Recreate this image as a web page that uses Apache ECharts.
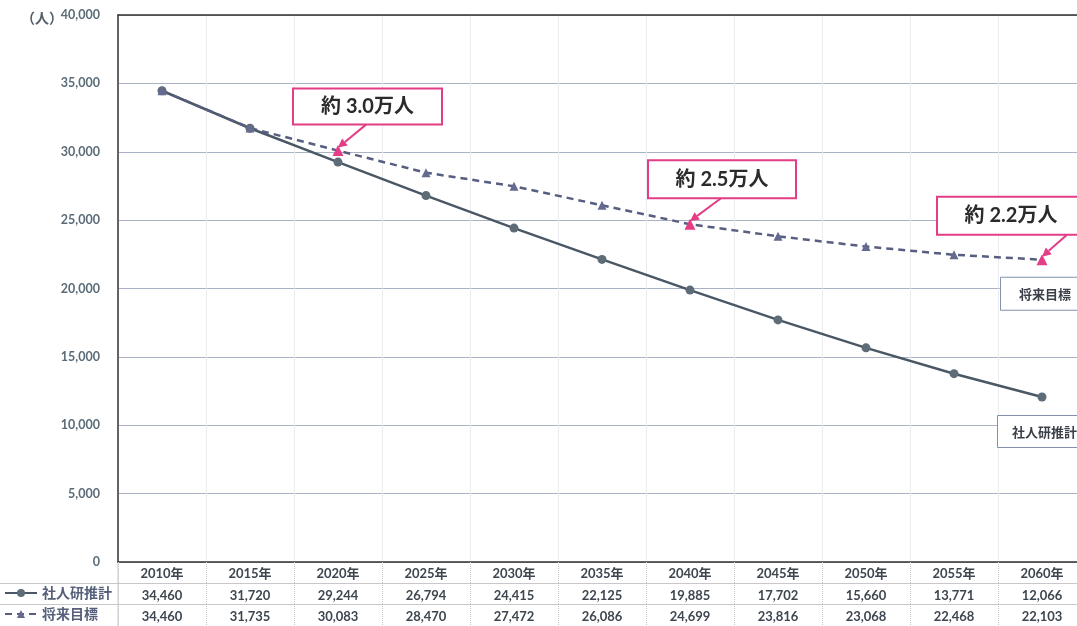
<!DOCTYPE html>
<html><head><meta charset="utf-8">
<script src="https://cdn.jsdelivr.net/npm/echarts@6/dist/echarts.min.js"></script>
<style>html,body{margin:0;padding:0;background:#fff}#c{width:1077px;height:626px}</style>
</head><body><div id="c"></div>
<script>
const years = ['2010','2015','2020','2025','2030','2035','2040','2045','2050','2055','2060'];
const shajinken = [34460,31720,29244,26794,24415,22125,19885,17702,15660,13771,12066];
const mokuhyo = [34460,31735,30083,28470,27472,26086,24699,23816,23068,22468,22103];
const seriesNames = ['社人研推計','将来目標'];
const yTicks = [0,5000,10000,15000,20000,25000,30000,35000,40000];
const calloutIdx = [2,6,10];
const calloutText = ['約 3.0万人','約 2.5万人','約 2.2万人'];

// layout (pixel offsets relative to the data point)
const calloutLayout = [
  {dx:-45, dy:-62, w:149, h:36, ax:28, ay:-26},
  {dx:-42, dy:-64, w:148, h:38, ax:31, ay:-26},
  {dx:-105, dy:-63, w:148, h:38, ax:25, ay:-25}
];
const endLayout = [
  {dx:-45, dy:18, w:95, h:32}, // 社人研推計
  {dx:-42, dy:17, w:90, h:33}  // 将来目標
];

const FONT = 'Lato, "Noto Sans CJK JP", sans-serif';
const fmt = v => Number(v).toLocaleString('en-US');
const PINK = '#e23d85';

const chart = echarts.init(document.getElementById('c'));

const m2 = mokuhyo.map((v,i) => calloutIdx.includes(i)
  ? {value:v, itemStyle:{color:PINK}, symbolSize:11} : v);

const calloutData = calloutIdx.map((idx,k) => [idx, mokuhyo[idx], k]);
const endData = [[years.length-1, shajinken[shajinken.length-1], 0],[years.length-1, mokuhyo[mokuhyo.length-1], 1]];

function tableAxis(offset, vals, color, lineColor){
  return {
    type:'category', data:years, position:'bottom', offset:offset, gridIndex:0,
    axisLine:{show:true, lineStyle:{color:lineColor, width:1}},
    axisTick:{show:true, length:21, interval:0, lineStyle:{color:'#c4c4c4', type:'dotted'}},
    axisLabel:{interval:0, margin:6, color:color, fontWeight:'bold', fontSize:13, fontFamily:FONT,
      formatter:(v,i)=>fmt(vals[i])},
    splitLine:{show:false}
  };
}

const option = {
  backgroundColor:'#fff',
  animation:false,
  title:{text:'（人）', left:16, top:6, textStyle:{fontSize:14, fontWeight:'bold', color:'#55606a', fontFamily:FONT}},
  grid:{left:118, top:15, width:968, bottom:64, containLabel:false, outerBoundsMode:'none'},
  legend:[
    {data:[seriesNames[0]], left:4, top:586, itemWidth:32, itemHeight:10, itemGap:0, padding:0,
      textStyle:{fontSize:14, fontWeight:'bold', color:'#56607a', fontFamily:'"Noto Sans CJK JP", sans-serif'}},
    {data:[seriesNames[1]], left:4, top:607, itemWidth:32, itemHeight:10, itemGap:0, padding:0,
      textStyle:{fontSize:14, fontWeight:'bold', color:'#56607a', fontFamily:'"Noto Sans CJK JP", sans-serif'}}
  ],
  xAxis:[
    {
      type:'category', data:years, position:'bottom',
      axisLine:{show:true, lineStyle:{color:'#333', width:1.5}},
      axisTick:{show:true, length:21, interval:0, lineStyle:{color:'#c4c4c4', type:'dotted'}},
      axisLabel:{interval:0, margin:5, color:'#3e4650', fontWeight:'bold', fontSize:13, fontFamily:FONT,
        formatter:v=>v+'年'},
      splitLine:{show:true, interval:0, lineStyle:{color:'#ececf0', width:1}}
    },
    tableAxis(21, shajinken, '#3e4650', '#c8c8c8'),
    tableAxis(42, mokuhyo, '#3e4650', '#c8c8c8'),
    {type:'category', data:years, position:'top', axisLine:{show:true, lineStyle:{color:'#333', width:1.5}},
      axisTick:{show:false}, axisLabel:{show:false}, splitLine:{show:false}}
  ],
  yAxis:{
    type:'value', min:yTicks[0], max:yTicks[yTicks.length-1], interval:yTicks[1]-yTicks[0],
    axisLine:{show:true, lineStyle:{color:'#333', width:1.5}},
    axisTick:{show:false},
    axisLabel:{margin:18, color:'#5a6c78', fontWeight:'bold', fontSize:12.5, fontFamily:FONT, formatter:v=>fmt(v)},
    splitLine:{show:true, lineStyle:{color:'#aab3c6', width:1}}
  },
  graphic:[
    {type:'line', shape:{x1:0, y1:583.5, x2:118, y2:583.5}, style:{stroke:'#c8c8c8', lineWidth:1}, silent:true},
    {type:'line', shape:{x1:0, y1:604.5, x2:118, y2:604.5}, style:{stroke:'#c8c8c8', lineWidth:1}, silent:true},
    {type:'line', shape:{x1:118, y1:562, x2:118, y2:626}, style:{stroke:'#c8c8c8', lineWidth:1}, silent:true}
  ],
  series:[
    {
      name:seriesNames[0], type:'line', data:shajinken, xAxisIndex:0,
      symbol:'circle', symbolSize:9,
      lineStyle:{color:'#4a5866', width:2.5},
      itemStyle:{color:'#5e6c78'}, z:3
    },
    {
      name:seriesNames[1], type:'line', data:m2, xAxisIndex:0,
      symbol:'triangle', symbolSize:9,
      lineStyle:{color:'#575e80', width:2.5, type:[7,5]},
      itemStyle:{color:'#646a90'}, z:3
    },
    {
      type:'custom', xAxisIndex:0, yAxisIndex:0, clip:false, z:5, silent:true,
      data:calloutData,
      renderItem:function(params, api){
        const p = api.coord([api.value(0), api.value(1)]);
        const L = calloutLayout[api.value(2)];
        const bx = p[0]+L.dx, by = p[1]+L.dy;
        const sx = p[0]+L.ax, sy = p[1]+L.ay;
        const ex = p[0], ey = p[1]-3;
        const ang = Math.atan2(ey-sy, ex-sx);
        const hl = 9, hw = 4.5;
        const bxh = ex - hl*Math.cos(ang), byh = ey - hl*Math.sin(ang);
        return {type:'group', children:[
          {type:'rect', shape:{x:bx, y:by, width:L.w, height:L.h},
            style:{fill:'#fff', stroke:PINK, lineWidth:2}},
          {type:'text', style:{x:bx+L.w/2, y:by+L.h/2, text:calloutText[api.value(2)],
            align:'center', verticalAlign:'middle', fill:'#2b2b2b', font:'bold 20px '+FONT}},
          {type:'line', shape:{x1:sx, y1:sy, x2:bxh, y2:byh}, style:{stroke:PINK, lineWidth:2}},
          {type:'polygon', shape:{points:[[ex,ey],
            [bxh - hw*Math.sin(ang), byh + hw*Math.cos(ang)],
            [bxh + hw*Math.sin(ang), byh - hw*Math.cos(ang)]]}, style:{fill:PINK}}
        ]};
      }
    },
    {
      type:'custom', xAxisIndex:0, yAxisIndex:0, clip:false, z:5, silent:true,
      data:endData,
      renderItem:function(params, api){
        const p = api.coord([api.value(0), api.value(1)]);
        const k = api.value(2);
        const L = endLayout[k];
        const bx = p[0]+L.dx, by = p[1]+L.dy;
        return {type:'group', children:[
          {type:'rect', shape:{x:bx+0.5, y:by+0.5, width:L.w, height:L.h},
            style:{fill:'#fff', stroke:'#8290ac', lineWidth:1}},
          {type:'text', style:{x:bx+L.w/2, y:by+L.h/2+1, text:seriesNames[k],
            align:'center', verticalAlign:'middle', fill:'#3a3f48', font:'bold 13px "Noto Sans CJK JP", sans-serif'}}
        ]};
      }
    }
  ]
};
chart.setOption(option);
</script></body></html>
